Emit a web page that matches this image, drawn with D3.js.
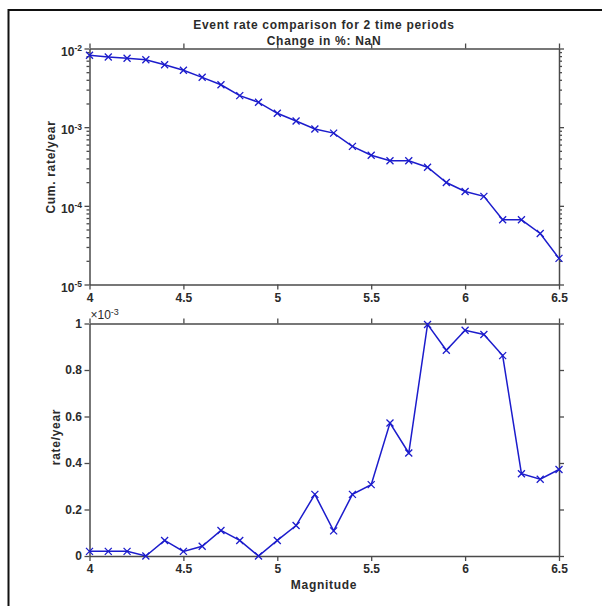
<!DOCTYPE html>
<html>
  <head>
    <meta charset="utf-8" />
    <style>
      body { margin: 0; background: #fff; }
      svg { display: block; font-family: "Liberation Sans", Arial, sans-serif; }
    </style>
  </head>
  <body>
    <svg id="chart"></svg>

    <script src="https://d3js.org/d3.v7.min.js"></script>

    <script>
      // magnitude bins (x values for both panels)
      const magnitudes = [
        4.0, 4.1, 4.2, 4.3, 4.4, 4.5, 4.6, 4.7, 4.8, 4.9,
        5.0, 5.1, 5.2, 5.3, 5.4, 5.5, 5.6, 5.7, 5.8, 5.9,
        6.0, 6.1, 6.2, 6.3, 6.4, 6.5,
      ];

      // top panel: cumulative rate per year (log scale)
      const cum_rate = [
        8.2e-3, 7.8e-3, 7.5e-3, 7.2e-3, 6.2e-3, 5.3e-3, 4.3e-3, 3.46e-3, 2.52e-3, 2.07e-3,
        1.5e-3, 1.2e-3, 9.5e-4, 8.4e-4, 5.7e-4, 4.4e-4, 3.75e-4, 3.75e-4, 3.1e-4, 1.98e-4,
        1.52e-4, 1.32e-4, 6.65e-5, 6.65e-5, 4.45e-5, 2.15e-5,
      ];

      // bottom panel: rate per year (x 10^-3)
      const rate = [
        0.02, 0.02, 0.02, 0.0, 0.067, 0.02, 0.042, 0.11, 0.067, 0.0,
        0.067, 0.131, 0.265, 0.108, 0.265, 0.307, 0.572, 0.443, 0.996, 0.885,
        0.971, 0.953, 0.862, 0.354, 0.33, 0.372,
      ];

      const x_ticks = [4, 4.5, 5, 5.5, 6, 6.5];
      const log_ticks = [1e-5, 1e-4, 1e-3, 1e-2];
      const lin_ticks = [0, 0.2, 0.4, 0.6, 0.8, 1];

      const width = 602;
      const height = 606;
      const left = 89.5;
      const right = 559;
      const axisColor = "#4a4a4a";
      const textColor = "#2b2b2b";
      const lineColor = "#1c1ccc";

      const svg = d3
        .select("#chart")
        .attr("width", width)
        .attr("height", height)
        .attr("viewBox", [0, 0, width, height]);

      svg.append("rect").attr("width", width).attr("height", height).attr("fill", "#fff");

      // outer frame (only top and left edges are visible)
      svg
        .append("path")
        .attr("d", `M8.5,${height}V10H${width}`)
        .attr("fill", "none")
        .attr("stroke", "#111")
        .attr("stroke-width", 2);

      const x = d3.scaleLinear().domain([4, 6.5]).range([left, right]);

      const yTop = d3.scaleLog().domain([1e-5, 1e-2]).range([284.5, 48.5]);
      const yBot = d3.scaleLinear().domain([0, 1]).range([556, 323.5]);

      function styleAxis(g) {
        g.selectAll(".domain").attr("stroke", axisColor).attr("stroke-width", 1.5);
        g.selectAll(".tick line").attr("stroke", axisColor).attr("stroke-width", 1.3);
        g.selectAll("text")
          .attr("fill", textColor)
          .attr("font-weight", "bold")
          .attr("font-size", 12)
          .attr("font-family", '"Liberation Sans", Arial, sans-serif');
      }

      function drawPanel(y, top, bottom, yTickValues, yFormat) {
        const g = svg.append("g");

        // x axes (bottom with labels, top mirrored)
        g.append("g")
          .attr("transform", `translate(0,${bottom})`)
          .call(d3.axisBottom(x).tickValues(x_ticks).tickSize(5).tickSizeOuter(0).tickPadding(3.5).tickFormat(d3.format("")))
          .call(styleAxis);
        g.append("g")
          .attr("transform", `translate(0,${top})`)
          .call(d3.axisTop(x).tickValues(x_ticks).tickSize(5).tickSizeOuter(0).tickFormat(() => ""))
          .call(styleAxis);

        // y axes
        const yl = g
          .append("g")
          .attr("transform", `translate(${left},0)`)
          .call(d3.axisLeft(y).tickValues(yTickValues).tickSize(5).tickSizeOuter(0).tickPadding(2.5).tickFormat(yFormat))
          .call(styleAxis);
        g.append("g")
          .attr("transform", `translate(${right},0)`)
          .call(d3.axisRight(y).tickValues(yTickValues).tickSize(5).tickSizeOuter(0).tickFormat(() => ""))
          .call(styleAxis);
        return yl;
      }

      // ---- top panel (log) ----
      const ylTop = drawPanel(yTop, 48.5, 284.5, log_ticks, () => "");
      ylTop
        .selectAll(".tick text")
        .attr("dy", "0.55em")
        .attr("x", -7.5)
        .each(function (d) {
          const t = d3.select(this);
          t.append("tspan").text("10");
          t.append("tspan")
            .attr("dy", "-0.55em")
            .attr("font-size", 8.5)
            .text(Math.round(Math.log10(d)));
        });

      // minor log ticks on both sides
      const minor = yTop.ticks().filter((d) => !log_ticks.some((m) => Math.abs(m - d) / d < 1e-6));
      [
        [left, d3.axisLeft],
        [right, d3.axisRight],
      ].forEach(([pos, ax]) => {
        svg
          .append("g")
          .attr("transform", `translate(${pos},0)`)
          .call(ax(yTop).tickValues(minor).tickSize(3).tickFormat(() => ""))
          .call((g) => g.select(".domain").remove())
          .call(styleAxis);
      });

      const lineTop = d3
        .line()
        .x((d, i) => x(magnitudes[i]))
        .y((d) => yTop(d));

      svg
        .append("path")
        .datum(cum_rate)
        .attr("d", lineTop)
        .attr("fill", "none")
        .attr("stroke", lineColor)
        .attr("stroke-width", 1.5);

      function drawMarkers(data, y) {
        svg
          .append("g")
          .attr("stroke", lineColor)
          .attr("stroke-width", 1.3)
          .selectAll()
          .data(data)
          .join("path")
          .attr("transform", (d, i) => `translate(${x(magnitudes[i])},${y(d)})`)
          .attr("d", "M-3.5,-3.5L3.5,3.5M-3.5,3.5L3.5,-3.5");
      }
      drawMarkers(cum_rate, yTop);

      // ---- bottom panel (linear) ----
      drawPanel(yBot, 323.5, 556, lin_ticks, d3.format(""));

      const lineBot = d3
        .line()
        .x((d, i) => x(magnitudes[i]))
        .y((d) => yBot(d));

      svg
        .append("path")
        .datum(rate)
        .attr("d", lineBot)
        .attr("fill", "none")
        .attr("stroke", lineColor)
        .attr("stroke-width", 1.5);
      drawMarkers(rate, yBot);

      // exponent label of the bottom panel
      const expo = svg
        .append("text")
        .attr("x", left + 1)
        .attr("y", 319)
        .attr("fill", textColor)
        .attr("font-size", 12);
      expo.append("tspan").text("\u00d710");
      expo.append("tspan").attr("dy", "-0.5em").attr("font-size", 9).text("-3");

      // ---- titles and labels ----
      const label = (txt, tx, ty, rot) =>
        svg
          .append("text")
          .attr("transform", `translate(${tx},${ty})${rot ? " rotate(-90)" : ""}`)
          .attr("text-anchor", "middle")
          .attr("font-weight", "bold")
          .attr("font-size", 12)
          .attr("letter-spacing", "0.7px")
          .attr("fill", textColor)
          .text(txt);

      label("Event rate comparison for 2 time periods", 324, 29);
      label("Change in %: NaN", 324, 45);
      label("Cum. rate/year", 54.5, 167, true);
      label("rate/year", 60, 437, true);
      label("Magnitude", 324, 589);
    </script>
  </body>
</html>
